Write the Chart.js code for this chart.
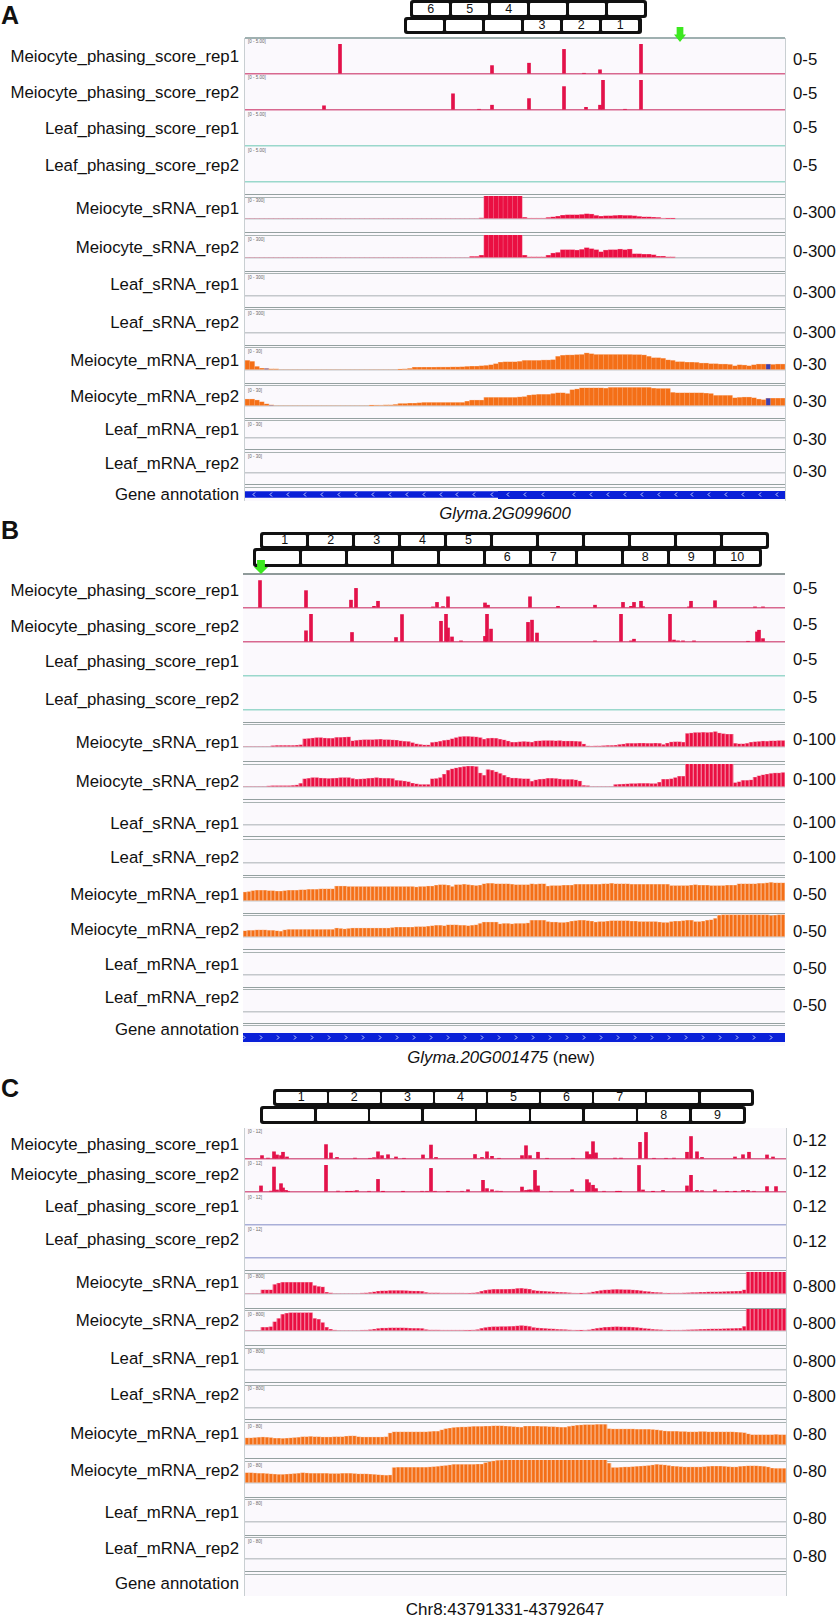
<!DOCTYPE html>
<html>
<head>
<meta charset="utf-8">
<title>Phasing tracks</title>
<script src="https://cdn.jsdelivr.net/npm/chart.js@4/dist/chart.umd.js"></script>
<style>
	html, body { margin: 0; padding: 0; background: #fff; }
	#page { position: relative; width: 836px; height: 1617px; overflow: hidden; font-family: "Liberation Sans", Arial, sans-serif; color: #111; }
	#page div { position: absolute; }
	.lbl { font-size: 16.8px; line-height: 20px; white-space: nowrap; }
	.tiny { font-size: 4.5px; line-height: 5px; color: #666; white-space: nowrap; }
	.row { background: #111; border-radius: 3px; display: flex; gap: 2.5px; padding: 3px; box-sizing: border-box; }
	#page .row div { position: static; flex: 1; background: #fff; text-align: center; font-size: 12.5px; border-radius: 1px; }
</style>
</head>
<body>
<div id="page"></div>
<script>

var trackNames = ['Meiocyte_phasing_score_rep1', 'Meiocyte_phasing_score_rep2', 'Leaf_phasing_score_rep1', 'Leaf_phasing_score_rep2',
	'Meiocyte_sRNA_rep1', 'Meiocyte_sRNA_rep2', 'Leaf_sRNA_rep1', 'Leaf_sRNA_rep2',
	'Meiocyte_mRNA_rep1', 'Meiocyte_mRNA_rep2', 'Leaf_mRNA_rep1', 'Leaf_mRNA_rep2'];
var noData = [];

/* Panel A values */
var rangesA = ['0-5', '0-300', '0-30'];
var tinyA = ['[0 - 5.00]', '[0 - 300]', '[0 - 30]'];
var aPhase1Pos = [95, 247, 284, 319, 339, 355, 396];
var aPhase1Val = [5, 1.4, 1.8, 4.1, 0.1, 0.7, 5];
var aPhase2Pos = [79, 208, 234, 247, 284, 319, 341, 355, 358, 380, 396];
var aPhase2Val = [0.7, 2.7, 0.1, 0.8, 1.9, 3.9, 0.45, 0.8, 5, 0.1, 5];
var aSrna1 = [0,0,0,0,0,0,0,0,0,0,0,0,0,0,0,0,0,0,0,0,0,0,0,0,0,0,0,0,0,0,0,0,0,0,0,0,0,0,0,0,0,0,0,0,0,0,0,0,0,13,300,300,300,300,300,300,300,300,20,9,9,9,9,18,26,35,48,53,53,53,57,66,62,44,35,40,40,44,48,44,44,40,31,26,26,22,18,9,5,4];
var aSrna2 = [0,0,0,0,0,0,0,0,0,0,0,0,0,0,0,0,0,0,0,0,0,0,0,0,0,0,0,0,0,0,0,0,0,0,0,0,0,0,0,0,0,0,0,0,0,0,0,18,18,35,300,300,300,300,300,300,300,300,35,13,13,13,13,35,62,70,106,106,106,101,110,132,119,106,79,101,106,106,114,106,114,53,53,48,48,40,22,22,13,13];
var aMrna1 = [12.3,11,4.4,2.2,1.8,1.3,1.3,0,0,0,0,0,0,0,0,0,0,0,0,0,0,0,0,0,0,0,0,0,0,0,0,0,0.4,1.3,1.8,3.5,3.5,3.5,3.5,3.5,3.6,3.6,3.6,3.8,3.8,4,4.4,4.8,4.8,5.3,5.7,6.6,8,10,10.5,10.5,10.5,11,12.3,12.3,12.3,12.3,12.8,12.8,13.2,17.6,19,19.4,19.4,19.8,20,22,21,20,20,20,20,20,20,20,20,19.8,19.8,19.4,17.6,15.8,15.8,15,13,12.3,10.6,10.6,10,10,9.7,8.8,8.8,8,8,7.5,7.5,7,5.3,6.6,6.2,5.3,6.6,7.5,7.5,7.5,7,7.5,7.5];
var aMrna2 = [8.8,8.8,7.5,5.3,2.6,1.3,0,0,0,0,0,0,0,0,0,0,0,0,0,0,0,0,0,0,0,0,0.4,0.8,0.9,1.3,1.3,1.8,3,3,3.5,3.5,4,4.4,4.4,4.4,4.4,4.4,4.4,4.4,4.4,4.4,6,7.5,7.5,7.5,11,11,11,11,11,11,11,11.6,12,14,14.5,15,15,15,16,17,17,16,21,22,23.5,23.5,23.5,23.5,23.5,23,24,24,24,24,24,24,24,24,24,23,22.6,22.6,22.6,17.5,17,17,17,17,17,17,16.5,16,13.6,13.6,13.6,13.6,10.5,11,11.4,11.4,10.5,8.8,8,10,10,10,10];
var aMrna1Dark = [4, 109];
var aMrna2Dark = [5, 109];
var aGeneThin = [0, 253];
var aGeneThick = [253, 540];
var aGeneMarks = [9,26,43,60,77,94,111,128,145,162,179,196,212,229,247,263,280,298,329,346,363,380,397,414,431,447,464,481,498,515,532];

/* Panel B values */
var rangesB = ['0-5', '0-100', '0-50'];
var bPhase1Pos = [17,63,108,113,131,135,190,194,200,205,242,245,287,315,352,380,388,391,398,400,446,448,472,512,520];
var bPhase1Val = [4.9,3.1,1.4,3.5,0.3,1.2,0.2,1,0.25,2,0.9,0.5,2,0.3,0.5,1,0.3,1,1.2,0.25,0.2,1.2,1.3,0.2,0.2];
var bPhase2Pos = [63,68,109,153,159,198,203,205,209,218,242,244,248,285,289,294,352,378,388,391,427,431,435,440,451,505,514,516,520];
var bPhase2Val = [2,5,1.7,0.8,4.9,3.7,5,2.5,0.9,0.2,1,5,2.3,3.5,3.9,1.6,0.2,5,0.2,0.5,5,0.35,0.2,0.2,0.2,0.1,1.8,2.1,0.6];
var bSrna1 = [0,0,0,0,0,0,0,5,6,6,6,6,6,7,9,35,36,38,40,40,38,37,37,41,41,42,43,26,28,30,31,31,31,32,33,31,31,30,29,26,24,23,18,13,10,8,8,19,21,24,28,30,35,40,44,45,45,44,43,40,33,37,38,37,33,30,25,20,20,22,23,22,20,25,26,27,27,27,26,27,25,25,25,24,23,12,4,3,4,4,5,6,6,7,10,12,15,15,15,16,16,15,15,16,15,10,16,21,22,22,20,58,60,62,62,63,62,63,66,60,57,55,55,15,13,13,15,20,22,23,25,24,26,26,27,27];
var bSrna2 = [0,0,0,0,0,0,4,5,5,5,5,5,6,8,15,35,37,40,40,38,37,36,37,38,40,40,40,36,33,34,35,37,38,40,38,37,37,36,28,27,25,22,16,13,10,10,10,35,36,40,55,72,78,82,85,88,90,90,88,60,50,75,72,65,58,50,42,38,38,36,35,35,24,30,33,34,37,37,36,34,32,32,32,30,25,6,5,0,0,0,0,0,0,10,11,12,13,14,14,15,15,15,14,14,20,33,33,35,40,46,46,100,100,100,100,100,100,100,100,100,100,100,100,18,22,28,28,30,42,48,52,55,58,60,60,62];
var bMrna1 = [19,20,22,23,23,23,22,22,21,21,22,23,23,23,24,24,25,25,25,26,26,26,26,32,32,32,31,31,31,31,31,31,31,31,31,31,31,31,31,31,31,31,31,30,31,31,32,32,34,35,35,34,31,35,35,36,35,34,33,34,37,38,38,37,37,37,37,36,35,35,35,35,37,36,37,37,32,33,33,33,34,34,34,36,36,36,36,36,36,36,37,37,38,37,37,37,37,36,36,36,36,36,36,36,36,36,36,33,33,33,33,33,34,35,34,34,34,33,33,33,33,34,34,34,37,37,37,37,37,38,38,39,40,39,39,39];
var bMrna2 = [13,14,14,15,15,15,14,14,13,12,15,16,16,16,16,16,16,16,16,16,16,16,16,19,18,17,18,19,19,19,19,19,19,19,19,19,19,20,21,21,21,21,21,22,22,22,23,24,25,25,24,26,26,26,25,25,24,25,26,29,32,32,32,32,28,29,29,28,29,29,29,30,36,36,36,36,33,32,32,31,31,32,34,35,36,36,35,34,32,33,33,34,35,35,35,35,35,34,34,33,33,33,33,33,32,31,31,33,34,34,35,36,36,33,33,34,36,37,40,47,48,48,48,48,48,48,48,48,48,48,48,48,46,47,48,48];
var bGeneBar = [0, 542];
var bGeneMarks = [1,18,35,52,69,86,103,120,137,154,171,188,205,222,239,256,273,290,307,324,341,358,375,392,409,426,443,460,477,494,511,528];

/* Panel C values */
var rangesC = ['0-12', '0-800', '0-80'];
var tinyC = ['[0 - 12]', '[0 - 800]', '[0 - 80]'];
var cPhase1Pos = [17,23,29,32,36,38,42,81,86,92,110,125,129,133,137,143,151,159,178,186,191,230,237,242,247,254,277,281,285,293,302,328,342,345,348,351,370,376,395,401,409,421,429,442,446,452,457,490,498,504,522,528];
var cPhase1Val = [1.5,0.4,3.2,1.8,1.5,3,0.9,6.4,2.7,0.7,0.4,0.3,0.6,3.2,1.5,1.9,0.9,0.3,1.8,6.2,0.7,2,0.7,3.2,1.2,0.3,1.5,5.9,1.5,3,0.3,0.3,3.2,2,7.7,2.7,0.4,0.4,7.4,11.8,0.3,0.3,0.4,3,10,3.2,0.7,0.9,1.9,3,1.8,0.9];
var cPhase2Pos = [16,26,29,32,36,38,41,43,81,93,102,106,110,112,124,133,138,158,177,182,186,190,203,217,223,238,242,247,252,256,277,281,284,286,290,293,306,327,342,344,348,351,359,372,375,394,398,408,418,442,446,452,457,470,482,490,498,503,509,522,531];
var cPhase2Val = [2.7,0.4,11.1,0.9,3.7,1.8,0.7,0.3,12,0.4,0.1,0.1,0.4,0.6,0.3,5.6,0.1,0.1,0.3,0.3,10.5,0.3,0.1,0.3,1,5.2,1.5,1,0.4,0.3,2.2,0.7,0.9,0.9,9.6,2.7,0.3,1,5.5,4.1,3,1.5,0.3,0.1,0.1,11.8,0.9,0.1,0.7,2.7,7.4,0.7,0.6,0.9,0.1,0.1,0.7,0.7,0.3,2.4,2.4];
var cSrna1 = [0,0,0,0,145,145,145,340,390,420,420,420,420,420,420,420,420,300,266,250,60,36,0,0,0,0,0,0,0,30,36,48,72,97,109,109,120,120,120,120,115,105,100,100,90,50,36,36,36,30,30,30,30,30,30,25,20,36,48,95,130,150,165,165,165,165,170,175,195,200,185,170,125,110,100,90,80,75,60,55,50,40,30,25,10,30,40,70,95,120,140,145,155,160,155,150,150,140,130,115,90,80,60,50,45,30,20,30,30,30,36,40,48,48,60,60,70,72,72,75,80,85,90,95,100,145,800,800,800,800,800,800,800,800,800,800];
var cSrna2 = [0,0,0,0,130,130,150,330,450,600,640,660,660,660,660,660,660,450,420,300,130,60,30,0,0,0,0,0,0,25,30,42,62,85,100,100,110,110,110,110,105,95,90,90,85,45,32,32,32,28,28,28,28,28,28,22,18,32,45,90,120,140,150,150,155,155,160,165,180,190,180,160,120,105,95,85,75,70,55,50,45,35,28,22,10,28,38,65,90,110,130,135,145,150,145,140,140,130,120,105,85,75,55,45,40,28,20,28,28,28,32,38,42,45,55,58,65,70,70,72,78,82,85,90,95,160,800,800,800,800,800,800,800,800,800,800];
var cMrna1 = [24,24,25,26,27,26,25,23,23,22,23,24,25,26,28,28,29,28,28,27,27,27,28,28,28,30,31,31,28,27,27,27,27,27,27,28,41,45,45,45,45,45,45,45,45,45,46,47,47,52,56,58,60,61,62,62,63,64,64,64,65,65,66,66,66,65,64,63,62,61,65,65,65,65,64,64,63,63,62,61,61,64,66,68,69,70,70,70,71,71,71,56,55,55,55,55,55,55,54,54,54,54,53,52,50,48,47,47,47,46,46,45,45,45,46,46,45,45,45,45,45,45,45,44,43,42,38,35,35,35,35,35,35,36,35,35];
var cMrna2 = [35,35,34,33,33,32,31,30,29,29,30,31,32,33,35,34,33,33,33,33,33,32,32,32,33,33,33,32,31,31,31,30,29,28,27,26,27,53,54,54,54,54,54,54,54,54,55,56,57,59,60,62,64,64,64,64,64,64,65,65,70,73,76,78,79,80,80,80,80,80,80,80,80,80,80,80,80,80,80,80,80,80,80,80,80,80,80,80,80,80,80,68,53,53,54,55,55,56,57,58,59,60,62,64,63,62,60,58,57,56,55,55,55,55,55,56,57,58,58,58,57,56,55,55,57,58,59,59,59,58,57,55,51,50,50,50];
var cPosLabels = ['Chr8:43791331-43792647'];

var panelA = {
	left: 245, width: 540, top: 38, bottom: 501,
	baselines: [74, 110, 146, 182, 219.3, 258, 295.7, 333, 370, 406, 438, 473.3],
	seps: [194, 232.3, 270.7, 306.7, 344.7, 382.7, 417.7, 449.3, 484],
	nameY: [57, 93, 129, 166, 209, 248, 285, 323, 361, 397, 430, 464, 495],
	rangeY: [60, 94, 128, 166, 213, 252, 293, 333, 365, 402, 440, 472],
	tinyY: [41.7, 77.3, 114, 150, 200.7, 239, 277, 313.7, 351.7, 390.7, 424, 456],
	heights: [30, 22.7, 22.7], phaseColor: ['#d8688f', '#d8688f', '#9ad8cc', '#9ad8cc'],
	sides: true, topRule: '#9fb0b0', bins: 113, binFill: 0.9
};
var panelB = {
	left: 243, width: 542, top: 574, bottom: 1046,
	baselines: [607.7, 641.7, 675.7, 710.3, 747.3, 786.7, 824.5, 863.3, 901.3, 937.3, 975, 1011.7],
	seps: [721.7, 761, 799, 836, 874.7, 912.7, 949, 986.7, 1022.7],
	nameY: [591, 627, 662, 700, 743, 782, 824, 858, 895, 930, 965, 998, 1030],
	rangeY: [589, 625, 660, 698, 740, 780, 823, 858, 895, 932, 969, 1006],
	heights: [28, 22.7, 22.7], phaseColor: ['#d8688f', '#d8688f', '#9ad8cc', '#9ad8cc'],
	sides: false, topRule: '#8f9a9a', bins: 136, binFill: 0.66
};
var panelC = {
	left: 245, width: 541, top: 1128, bottom: 1595.7,
	baselines: [1159.3, 1192, 1225, 1257.7, 1294.3, 1331, 1370, 1408, 1444.7, 1483.3, 1522.3, 1559.3],
	seps: [1270, 1307.7, 1345, 1382, 1419.3, 1458, 1496.7, 1534.7, 1571.3],
	nameY: [1145, 1175, 1207, 1240, 1283, 1321, 1359, 1395, 1434, 1471, 1512.7, 1549, 1584],
	rangeY: [1141, 1172, 1207, 1242, 1287, 1324, 1362, 1397, 1435, 1472, 1519, 1557],
	tinyY: [1131, 1163, 1197, 1229, 1276, 1314, 1351, 1388, 1426, 1465, 1503, 1541],
	heights: [27, 22, 22.7], phaseColor: ['#d8688f', '#d8688f', '#a9afd8', '#a9afd8'],
	sides: true, topRule: null, bins: 136, binFill: 0.66
};

var page = document.getElementById('page');

function box(css, text, cls) {
	var d = document.createElement('div');
	d.style.cssText = css;
	if (cls) d.className = cls;
	if (text) d.innerHTML = text;
	page.appendChild(d);
	return d;
}

function newCanvas(left, top, w, h) {
	var c = document.createElement('canvas');
	c.width = w;
	c.height = h;
	c.style.cssText = 'position:absolute;left:' + left + 'px;top:' + top + 'px;width:' + w + 'px;height:' + h + 'px;';
	page.appendChild(c);
	return c.getContext('2d');
}

function plainOptions(xScale, yMax, baseColor) {
	return {
		responsive: false,
		animation: false,
		events: [],
		layout: { padding: { bottom: 2 } },
		plugins: { legend: { display: false }, tooltip: { enabled: false } },
		scales: {
			x: xScale,
			y: {
				min: 0,
				max: yMax,
				afterFit: function (s) { s.width = 0; },
				ticks: { display: false, stepSize: yMax },
				grid: {
					drawTicks: false,
					lineWidth: 1.5,
					color: function (ctx) { return ctx.tick.value === 0 ? baseColor : 'transparent'; }
				},
				border: { display: false }
			}
		}
	};
}

/* sparse peaks, x is a position along the region */
function peakTrack(p, i, pos, vals, yMax, color, baseColor) {
	var h = Math.round(p.heights[0]);
	var ctx = newCanvas(p.left, Math.round(p.baselines[i]) - h, p.width, h + 2);
	var pts = pos.map(function (x, k) { return { x: x, y: vals[k] }; });
	new Chart(ctx, {
		type: 'bar',
		data: { datasets: [{ data: pts, backgroundColor: color, barThickness: 3 }] },
		options: plainOptions({ type: 'linear', display: false, min: 0, max: p.width, offset: false }, yMax, baseColor)
	});
}

/* coverage, one value per bin, pale full width bar behind the dark one */
function coverTrack(p, i, vals, yMax, color, pale, baseColor, heightIdx, dark) {
	var h = Math.round(p.heights[heightIdx]);
	var ctx = newCanvas(p.left, Math.round(p.baselines[i]) - h, p.width, h + 2);
	var labels = [];
	for (var k = 0; k < p.bins; k++) labels.push(k);
	new Chart(ctx, {
		type: 'bar',
		data: {
			labels: labels,
			datasets: [{
				data: vals,
				order: 1,
				grouped: false,
				backgroundColor: function (c) { return dark && dark.indexOf(c.dataIndex) >= 0 ? '#3d3fb0' : color; },
				barPercentage: p.binFill,
				categoryPercentage: 1
			}, {
				data: vals,
				order: 2,
				grouped: false,
				backgroundColor: pale,
				barPercentage: 1,
				categoryPercentage: 1
			}]
		},
		options: plainOptions({ type: 'category', display: false }, yMax, baseColor)
	});
}

/* gene body as thick line, strand marks as small chevrons */
function chevron(dir) {
	var c = document.createElement('canvas');
	c.width = 4;
	c.height = 5;
	var g = c.getContext('2d');
	g.strokeStyle = '#e6ecff';
	g.lineWidth = 0.9;
	g.beginPath();
	if (dir < 0) { g.moveTo(3, 0.5); g.lineTo(1, 2.5); g.lineTo(3, 4.5); }
	else { g.moveTo(1, 0.5); g.lineTo(3, 2.5); g.lineTo(1, 4.5); }
	g.stroke();
	return c;
}

function geneTrack(p, top, h, parts, marks, dir) {
	var ctx = newCanvas(p.left, top, p.width, h);
	var sets = parts.map(function (s) {
		return {
			order: 1,
			data: [{ x: s.range[0], y: s.y }, { x: s.range[1], y: s.y }],
			borderColor: '#0a20d8', borderWidth: s.w, pointRadius: 0, borderCapStyle: 'butt', clip: false
		};
	});
	sets.push({
		order: 0,
		data: marks.map(function (x) { return { x: x, y: 0.5 }; }),
		showLine: false, pointStyle: chevron(dir), pointRadius: 3, clip: false
	});
	new Chart(ctx, {
		type: 'line',
		data: { datasets: sets },
		options: {
			responsive: false, animation: false, events: [],
			layout: { autoPadding: false },
			plugins: { legend: { display: false }, tooltip: { enabled: false } },
			scales: {
				x: { type: 'linear', display: false, min: 0, max: p.width },
				y: { display: false, min: 0, max: 1 }
			}
		}
	});
}

/* background, rules, labels */
function frame(p, ranges, tiny) {
	box('left:' + p.left + 'px;top:' + p.top + 'px;width:' + p.width + 'px;height:' + (p.bottom - p.top) + 'px;background:#fbf9fd;');
	if (p.sides) {
		box('left:' + (p.left - 1) + 'px;top:' + p.top + 'px;width:1px;height:' + (p.bottom - p.top) + 'px;background:#c9cfd2;');
		box('left:' + (p.left + p.width) + 'px;top:' + p.top + 'px;width:1px;height:' + (p.bottom - p.top) + 'px;background:#c9cfd2;');
	}
	if (p.topRule) box('left:' + p.left + 'px;top:' + (p.top - 1) + 'px;width:' + p.width + 'px;height:1.5px;background:' + p.topRule + ';');
	p.seps.forEach(function (y) {
		box('left:' + p.left + 'px;top:' + y + 'px;width:' + p.width + 'px;height:1px;background:#94a0a0;');
		box('left:' + p.left + 'px;top:' + (y + 2.6) + 'px;width:' + p.width + 'px;height:1px;background:#a8b2b2;');
	});
	trackNames.concat(['Gene annotation']).forEach(function (n, i) {
		box('right:' + (836 - 239) + 'px;top:' + (p.nameY[i] - 10) + 'px;', n, 'lbl');
	});
	trackNames.forEach(function (n, i) {
		box('left:793px;top:' + (p.rangeY[i] - 10) + 'px;', ranges[Math.floor(i / 4)], 'lbl');
		if (tiny) box('left:' + (p.left + 3) + 'px;top:' + (p.tinyY[i] - 2.5) + 'px;', tiny[Math.floor(i / 4)], 'tiny');
	});
}

function allTracks(p, ph1Pos, ph1Val, ph2Pos, ph2Val, phaseMax, srna1, srna2, srnaMax, mrna1, mrna2, mrnaMax, dark1, dark2) {
	var red = '#ea0f42', pink = '#f27a98', orange = '#f46f17', peach = '#f8b183', base = '#c4c8cc';
	peakTrack(p, 0, ph1Pos, ph1Val, phaseMax, '#e3124a', p.phaseColor[0]);
	peakTrack(p, 1, ph2Pos, ph2Val, phaseMax, '#e3124a', p.phaseColor[1]);
	peakTrack(p, 2, noData, noData, phaseMax, '#e3124a', p.phaseColor[2]);
	peakTrack(p, 3, noData, noData, phaseMax, '#e3124a', p.phaseColor[3]);
	coverTrack(p, 4, srna1, srnaMax, red, pink, base, 1);
	coverTrack(p, 5, srna2, srnaMax, red, pink, base, 1);
	coverTrack(p, 6, noData, srnaMax, red, pink, base, 1);
	coverTrack(p, 7, noData, srnaMax, red, pink, base, 1);
	coverTrack(p, 8, mrna1, mrnaMax, orange, peach, base, 2, dark1);
	coverTrack(p, 9, mrna2, mrnaMax, orange, peach, base, 2, dark2);
	coverTrack(p, 10, noData, mrnaMax, orange, peach, base, 2);
	coverTrack(p, 11, noData, mrnaMax, orange, peach, base, 2);
}

/* phase register boxes */
function register(left, top, width, height, labels) {
	var d = box('left:' + left + 'px;top:' + top + 'px;width:' + width + 'px;height:' + height + 'px;', '', 'row');
	labels.forEach(function (t) {
		var b = document.createElement('div');
		b.textContent = t;
		b.style.lineHeight = (height - 6) + 'px';
		d.appendChild(b);
	});
}

function arrow(cx, top, w, h) {
	box('left:' + (cx - w / 2) + 'px;top:' + top + 'px;width:' + w + 'px;height:' + h + 'px;background:#3ce81f;' +
		'clip-path:polygon(22% 0,78% 0,78% 50%,100% 50%,50% 100%,0 50%,22% 50%);z-index:3;');
}

/* Panel A */
frame(panelA, rangesA, tinyA);
allTracks(panelA, aPhase1Pos, aPhase1Val, aPhase2Pos, aPhase2Val, 5, aSrna1, aSrna2, 300, aMrna1, aMrna2, 30, aMrna1Dark, aMrna2Dark);
geneTrack(panelA, 490, 9, [{ range: aGeneThin, y: 0.5, w: 6.5 }, { range: aGeneThick, y: 0.45, w: 8 }], aGeneMarks, -1);
register(409.5, 0, 237.5, 18, ['6', '5', '4', '', '', '']);
register(403.5, 17, 238, 17, ['', '', '', '3', '2', '1']);
arrow(680, 27, 12, 15);
box('left:1px;top:1px;font-size:25px;line-height:28px;font-weight:bold;', 'A');
box('left:0;width:1010px;top:504px;text-align:center;font-size:16.8px;line-height:20px;font-style:italic;', 'Glyma.2G099600');

/* Panel B */
frame(panelB, rangesB);
allTracks(panelB, bPhase1Pos, bPhase1Val, bPhase2Pos, bPhase2Val, 5, bSrna1, bSrna2, 100, bMrna1, bMrna2, 50);
geneTrack(panelB, 1033, 9, [{ range: bGeneBar, y: 0.5, w: 9 }], bGeneMarks, 1);
register(260, 531.5, 509, 17, ['1', '2', '3', '4', '5', '', '', '', '', '', '']);
register(252.5, 548, 509.5, 19, ['', '', '', '', '', '6', '7', '', '8', '9', '10']);
arrow(261, 560, 14, 14);
box('left:1px;top:516px;font-size:25px;line-height:28px;font-weight:bold;', 'B');
box('left:0;width:1002px;top:1048px;text-align:center;font-size:16.8px;line-height:20px;', '<i>Glyma.20G001475</i> (new)');

/* Panel C */
frame(panelC, rangesC, tinyC);
allTracks(panelC, cPhase1Pos, cPhase1Val, cPhase2Pos, cPhase2Val, 12, cSrna1, cSrna2, 800, cMrna1, cMrna2, 80);
register(273, 1089, 481, 17, ['1', '2', '3', '4', '5', '6', '7', '', '']);
register(260, 1106, 486, 18, ['', '', '', '', '', '', '', '8', '9']);
box('left:1px;top:1074px;font-size:25px;line-height:28px;font-weight:bold;', 'C');
box('left:0;width:1010px;top:1600px;text-align:center;font-size:17px;line-height:20px;', cPosLabels[0]);

</script>
</body>
</html>
